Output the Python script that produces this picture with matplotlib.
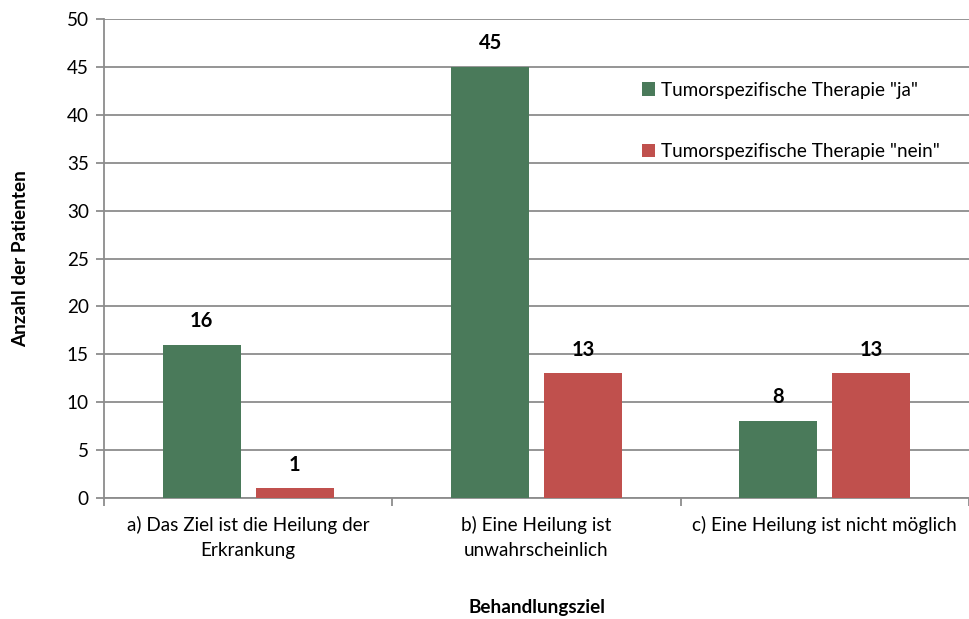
import matplotlib
matplotlib.use("Agg")
import matplotlib.pyplot as plt
import numpy as np

plt.rcParams['font.family'] = ['Lato', 'DejaVu Sans']

categories = ["a) Das Ziel ist die Heilung der\nErkrankung",
              "b) Eine Heilung ist\nunwahrscheinlich",
              "c) Eine Heilung ist nicht möglich"]
series_names = ['Tumorspezifische Therapie "ja"', 'Tumorspezifische Therapie "nein"']
values_ja = [16, 45, 8]
values_nein = [1, 13, 13]
colors = ["#4A7A5A", "#C0504D"]
y_ticks = [0, 5, 10, 15, 20, 25, 30, 35, 40, 45, 50]

fig = plt.figure(figsize=(9.69, 6.19), dpi=100)
ax = fig.add_axes([104 / 969, 1 - 498 / 619, (969 - 104) / 969, (498 - 19) / 619])

x = np.arange(len(categories))
width = 0.27
offset = 0.161
grid_color = "#8C8C8C"
fs = 13.6

for vals, off, col, name in [(values_ja, -offset, colors[0], series_names[0]),
                             (values_nein, offset, colors[1], series_names[1])]:
    bars = ax.bar(x + off, vals, width, color=col, label=name, zorder=3)
    for b, v in zip(bars, vals):
        ax.annotate(str(v), (b.get_x() + b.get_width() / 2, v),
                    xytext=(0, 10), textcoords="offset points",
                    ha="center", va="bottom", fontsize=14.5, fontweight="bold",
                    zorder=4)

ax.set_xlim(-0.5, len(categories) - 0.5)
ax.set_ylim(0, 50)
ax.set_yticks(y_ticks)
ax.yaxis.grid(True, color=grid_color, linewidth=1.3, zorder=0)
ax.set_axisbelow(True)

ax.set_xticks(np.arange(-0.5, len(categories), 1.0))
ax.set_xticklabels([])
ax.set_xticks(x, minor=True)
ax.set_xticklabels(categories, minor=True, fontsize=fs, linespacing=1.55)
ax.tick_params(axis="x", which="minor", length=0, pad=13)
ax.tick_params(axis="x", which="major", length=6, width=1.3, color=grid_color)
ax.tick_params(axis="y", length=6, width=1.3, color=grid_color, labelsize=fs, pad=5)

for s in ["top", "right"]:
    ax.spines[s].set_visible(False)
for s in ["left", "bottom"]:
    ax.spines[s].set_color(grid_color)
    ax.spines[s].set_linewidth(1.3)

ax.set_ylabel("Anzahl der Patienten", fontsize=fs, fontweight="bold")
ax.yaxis.set_label_coords(-0.087, 0.5)
ax.set_xlabel("Behandlungsziel", fontsize=fs, fontweight="bold")
ax.xaxis.set_label_coords(0.5, -0.21)

leg = ax.legend(loc="upper left", bbox_to_anchor=(0.613, 0.885), frameon=False,
                fontsize=fs, handlelength=0.7, handleheight=0.7,
                handletextpad=0.3, labelspacing=2.35, borderaxespad=0)

fig.savefig("out.png", dpi=100)
